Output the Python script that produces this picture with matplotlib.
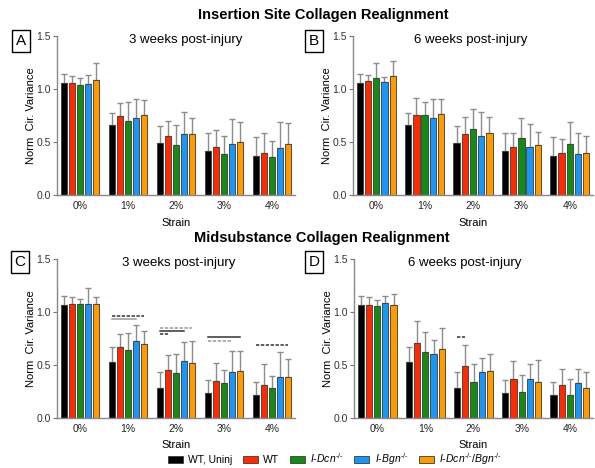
import numpy as np
import matplotlib
matplotlib.use("Agg")
import matplotlib.pyplot as plt
from matplotlib.patches import Patch

plt.rcParams["font.family"] = ["Liberation Sans", "DejaVu Sans"]
plt.rcParams["mathtext.fontset"] = "custom"
plt.rcParams["mathtext.rm"] = "Liberation Sans"
plt.rcParams["mathtext.it"] = "Liberation Sans:italic"

strains = ["0%", "1%", "2%", "3%", "4%"]
groups = ["WT, Uninj", "WT", r"$I$-$Dcn^{\text{-/-}}$", r"$I$-$Bgn^{\text{-/-}}$",
          r"$I$-$Dcn^{\text{-/-}}$/$Bgn^{\text{-/-}}$"]
colors = ["#000000", "#ff2a00", "#158a15", "#1a96f5", "#ff9a00"]

# means (rows = groups, cols = strain) and top of error bar
a_mean = [[1.053, 0.663, 0.494, 0.415, 0.365],
          [1.053, 0.745, 0.553, 0.456, 0.400],
          [1.038, 0.701, 0.472, 0.390, 0.358],
          [1.047, 0.730, 0.572, 0.484, 0.440],
          [1.082, 0.758, 0.572, 0.497, 0.478]]
a_top = [[1.140, 0.777, 0.654, 0.585, 0.544],
         [1.126, 0.865, 0.701, 0.610, 0.582],
         [1.100, 0.877, 0.663, 0.553, 0.513],
         [1.135, 0.909, 0.786, 0.714, 0.692],
         [1.242, 0.896, 0.726, 0.686, 0.676]]

b_mean = [[1.053, 0.663, 0.494, 0.415, 0.365],
          [1.075, 0.758, 0.575, 0.456, 0.393],
          [1.104, 0.755, 0.619, 0.538, 0.484],
          [1.063, 0.723, 0.557, 0.456, 0.390],
          [1.120, 0.764, 0.588, 0.469, 0.400]]
b_top = [[1.140, 0.777, 0.654, 0.585, 0.544],
         [1.135, 0.918, 0.736, 0.588, 0.525],
         [1.250, 0.877, 0.808, 0.730, 0.692],
         [1.116, 0.902, 0.783, 0.667, 0.588],
         [1.264, 0.902, 0.733, 0.597, 0.560]]

c_mean = [[1.066, 0.525, 0.286, 0.236, 0.220],
          [1.079, 0.667, 0.450, 0.346, 0.314],
          [1.079, 0.642, 0.425, 0.333, 0.286],
          [1.072, 0.726, 0.535, 0.437, 0.390],
          [1.072, 0.695, 0.519, 0.440, 0.384]]
c_top = [[1.148, 0.673, 0.434, 0.355, 0.336],
         [1.138, 0.789, 0.597, 0.516, 0.509],
         [1.123, 0.799, 0.607, 0.456, 0.399],
         [1.223, 0.877, 0.714, 0.632, 0.619],
         [1.138, 0.824, 0.723, 0.629, 0.557]]

d_mean = [[1.066, 0.525, 0.286, 0.236, 0.220],
          [1.066, 0.711, 0.490, 0.368, 0.308],
          [1.057, 0.620, 0.336, 0.248, 0.220],
          [1.085, 0.601, 0.431, 0.365, 0.330],
          [1.066, 0.651, 0.440, 0.343, 0.286]]
d_top = [[1.148, 0.673, 0.434, 0.355, 0.336],
         [1.142, 0.918, 0.686, 0.535, 0.462],
         [1.110, 0.808, 0.513, 0.402, 0.368],
         [1.154, 0.739, 0.563, 0.509, 0.465],
         [1.173, 0.846, 0.604, 0.547, 0.431]]

# significance lines: (strain index, from group, to group, height, colour, style)
c_sig = [(1, 0, 4, 0.965, "dark", "dash"), (1, 0, 3, 0.934, "grey", "solid"),
         (2, 0, 4, 0.850, "grey", "dash"), (2, 0, 3, 0.820, "dark", "solid"),
         (2, 0, 1, 0.790, "dark", "dash"),
         (3, 0, 4, 0.760, "dark", "solid"), (3, 0, 3, 0.726, "grey", "dash"),
         (4, 0, 4, 0.686, "dark", "dash")]
d_sig = [(2, 0, 1, 0.767, "dark", "dash")]

fig = plt.figure(figsize=(5.95, 4.68), dpi=100)

slot = 0.17
bw = 0.13


def px_axes(left, right, top, bottom):
    return fig.add_axes([left / 595, 1 - bottom / 468, (right - left) / 595, (bottom - top) / 468])


def draw_panel(ax, means, tops, subtitle, sub_x, sigs=()):
    x = np.arange(len(strains))
    for g in range(len(groups)):
        xs = x + (g - 2) * slot
        m = np.array(means[g])
        err = np.array(tops[g]) - m
        ax.bar(xs, m, width=bw, color=colors[g], edgecolor="#3a3a3a", linewidth=0.6, zorder=2)
        ax.errorbar(xs, m, yerr=[np.zeros_like(err), err], fmt="none", ecolor="#8c8c8c",
                    elinewidth=1.0, capsize=2, capthick=1.0, zorder=1)
    for s, g0, g1, h, col, sty in sigs:
        c = "#333333" if col == "dark" else "#9a9a9a"
        ls = (0, (2.2, 1.0)) if sty == "dash" else "-"
        x0 = s + (g0 - 2) * slot
        x1 = s + (g1 - 2) * slot
        ax.plot([x0, x1], [h, h], color=c, linestyle=ls, linewidth=1.1, zorder=3)
    ax.set_xlim(-0.48, 4.48)
    ax.set_ylim(0, 1.5)
    ax.set_yticks([0, 0.5, 1.0, 1.5])
    ax.set_yticklabels(["0.0", "0.5", "1.0", "1.5"])
    ax.set_xticks(x)
    ax.set_xticklabels(strains)
    ax.tick_params(axis="y", labelsize=7.5, length=3, width=0.8, color="#777777", pad=1.5, labelcolor="#333333")
    ax.tick_params(axis="x", labelsize=7.5, length=0, pad=4, labelcolor="#222222")
    for sp in ["top", "right"]:
        ax.spines[sp].set_visible(False)
    for sp in ["left", "bottom"]:
        ax.spines[sp].set_color("#888888")
        ax.spines[sp].set_linewidth(1.0)
    ax.set_xlabel("Strain", fontsize=8, labelpad=5)
    ax.set_ylabel("Norm  Cir. Variance", fontsize=8, labelpad=0)
    ax.text(sub_x, 0.975, subtitle, transform=ax.transAxes, ha="center", va="center", fontsize=9.5)


ax_a = px_axes(57, 295, 36, 195)
ax_b = px_axes(353, 593, 36, 195)
ax_c = px_axes(57, 295, 259, 418)
ax_d = px_axes(354, 593, 259, 418)

draw_panel(ax_a, a_mean, a_top, "3 weeks post-injury", 0.54)
draw_panel(ax_b, b_mean, b_top, "6 weeks post-injury", 0.49)
draw_panel(ax_c, c_mean, c_top, "3 weeks post-injury", 0.51, c_sig)
draw_panel(ax_d, d_mean, d_top, "6 weeks post-injury", 0.465, d_sig)

# panel letters in boxes
for letter, cx, cy in [("A", 21, 41), ("B", 314, 41), ("C", 20, 262), ("D", 314, 262)]:
    fig.text(cx / 595, 1 - cy / 468, letter, ha="center", va="center", fontsize=11,
             bbox=dict(boxstyle="square,pad=0.25", facecolor="white", edgecolor="black", linewidth=1.0))

fig.text(323 / 595, 1 - 15 / 468, "Insertion Site Collagen Realignment", ha="center", va="center",
         fontsize=10.5, fontweight="bold")
fig.text(322 / 595, 1 - 238 / 468, "Midsubstance Collagen Realignment", ha="center", va="center",
         fontsize=10.5, fontweight="bold")

handles = [Patch(facecolor=colors[g], edgecolor="#3a3a3a", linewidth=0.6) for g in range(len(groups))]
fig.legend(handles, groups, loc="center", bbox_to_anchor=(335 / 595, 1 - 459 / 468), ncol=5,
           frameon=False, fontsize=7.5, handlelength=1.45, handleheight=0.6, columnspacing=1.0,
           handletextpad=0.5, borderpad=0)

fig.savefig("out.png", dpi=100)
